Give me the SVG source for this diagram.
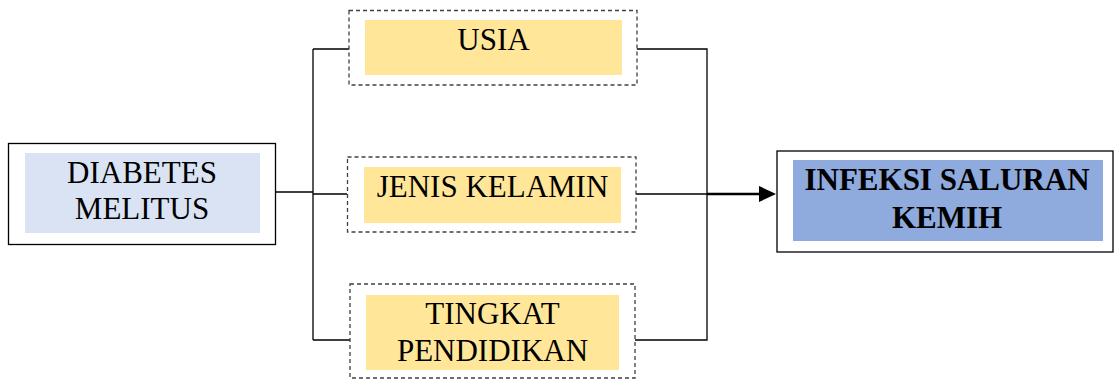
<svg xmlns="http://www.w3.org/2000/svg" width="1115" height="380" viewBox="0 0 1115 380">
<style>
.solid{fill:#fff;stroke:#000;stroke-width:1.3}
.dash{fill:#fff;stroke:#404040;stroke-width:1.3;stroke-dasharray:4 3}
.yel{fill:#ffe699}
.t{font-size:31px;fill:#000;text-anchor:middle}
.b{font-weight:bold}
.ln{fill:none;stroke:#000;stroke-width:1.3}
</style>
<g id="connectors">
<path class="ln" d="M275.5,192 H313 M313,49 V340 M313,49 H349 M313,194 H347 M313,340 H350"/>
<path class="ln" d="M637,49 H707 V340 H635 M636,194 H707"/>
<path d="M707,194 H768" fill="none" stroke="#000" stroke-width="2.5"/>
<path d="M759,186 L776,194 L759,202 Z" fill="#000"/>
</g>
<g font-family="'Liberation Serif', 'DejaVu Serif', serif">
<g id="diabetes">
<rect class="solid" x="8.5" y="143.5" width="267" height="101"/>
<rect x="25" y="153" width="235" height="80" fill="#dae3f3"/>
<text class="t" x="142" y="183">DIABETES</text>
<text class="t" x="142" y="219">MELITUS</text>
</g>
<g id="usia">
<rect class="dash" x="349" y="10.5" width="288" height="74.5"/>
<rect class="yel" x="365" y="20" width="257" height="55"/>
<text class="t" x="493.5" y="50">USIA</text>
</g>
<g id="jenis">
<rect class="dash" x="347.5" y="157" width="288.5" height="75"/>
<rect class="yel" x="364" y="167" width="257" height="56"/>
<text class="t" x="492.5" y="197">JENIS KELAMIN</text>
</g>
<g id="tingkat">
<rect class="dash" x="350" y="284" width="285" height="94"/>
<rect class="yel" x="366" y="295" width="253" height="75"/>
<text class="t" x="492.5" y="324">TINGKAT</text>
<text class="t" x="492.5" y="361">PENDIDIKAN</text>
</g>
<g id="infeksi">
<rect class="solid" x="777" y="151" width="336" height="101"/>
<rect x="793" y="160" width="310" height="81" fill="#8faadc"/>
<text class="t b" x="947" y="190">INFEKSI SALURAN</text>
<text class="t b" x="947" y="228">KEMIH</text>
</g>
</g>
</svg>
